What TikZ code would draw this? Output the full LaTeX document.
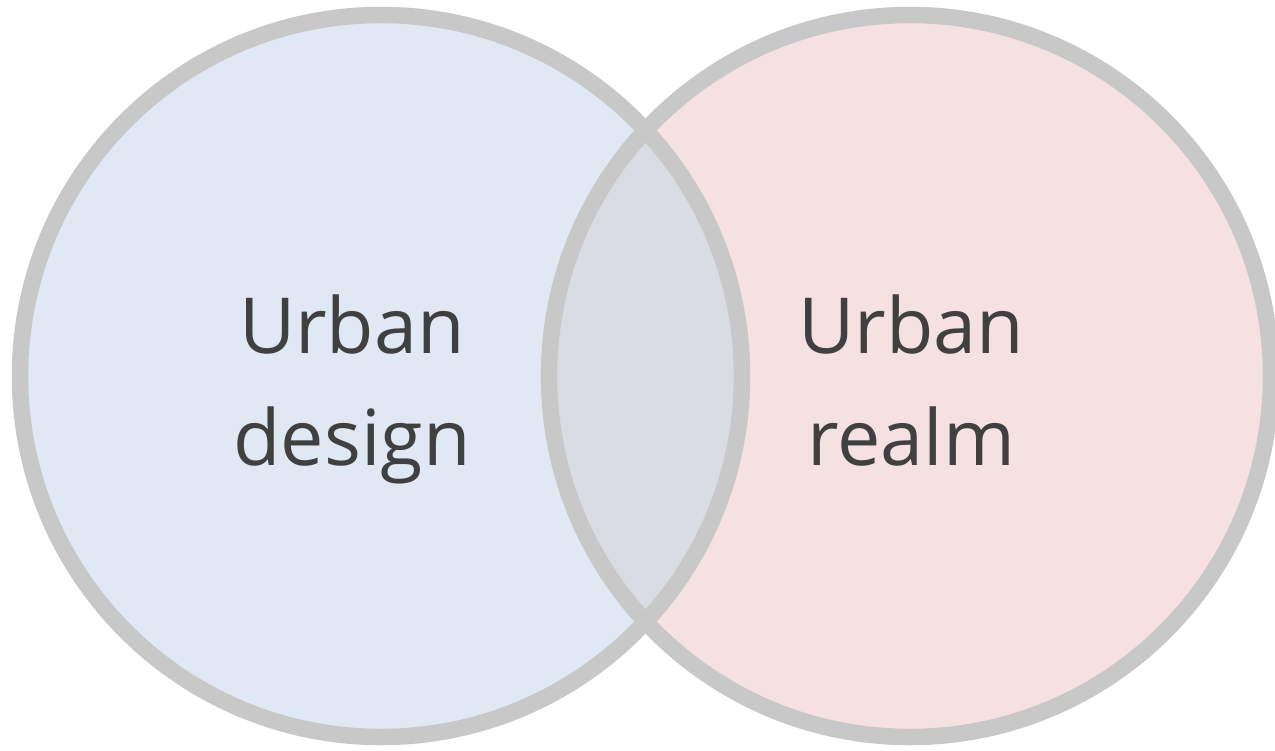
\documentclass[tikz,border=0pt]{standalone}
\usepackage{fontspec}
\setmainfont{Open Sans}

\definecolor{ringgray}{HTML}{C8C8C8}
\definecolor{designblue}{HTML}{E0E8F3}
\definecolor{realmpink}{HTML}{F5E1E1}
\definecolor{overlapgray}{HTML}{DADCE4}
\definecolor{labelgray}{HTML}{404040}

\begin{document}
\begin{tikzpicture}[%
        ring/.style = {draw = ringgray, line width = 0.33cm},
        vennlabel/.style = {anchor = base, text = labelgray, inner sep = 0pt,
            font = \fontsize{44}{52}\selectfont}
    ]

        \useasboundingbox (0, 0) rectangle (25.5, 15);

        % Filled discs for the two sets.
        \fill[designblue] (7.62, 7.48) circle (7.22);
        \fill[realmpink] (18.2, 7.48) circle (7.22);

        % Lens where the two sets overlap.
        \begin{scope}
            \clip (7.62, 7.48) circle (7.22);
            \fill[overlapgray] (18.2, 7.48) circle (7.22);
        \end{scope}

        % Gray rings on top of the fills.
        \draw[ring] (7.62, 7.48) circle (7.22);
        \draw[ring] (18.2, 7.48) circle (7.22);

        % Labels of the two sets.
        \node[vennlabel] (design top) at (7.04, 7.94) {Urban};
        \node[vennlabel] (design bottom) at (7.04, 5.70) {design};
        \node[vennlabel] (realm top) at (18.22, 7.94) {Urban};
        \node[vennlabel] (realm bottom) at (18.22, 5.70) {realm};
    \end{tikzpicture}
\end{document}
